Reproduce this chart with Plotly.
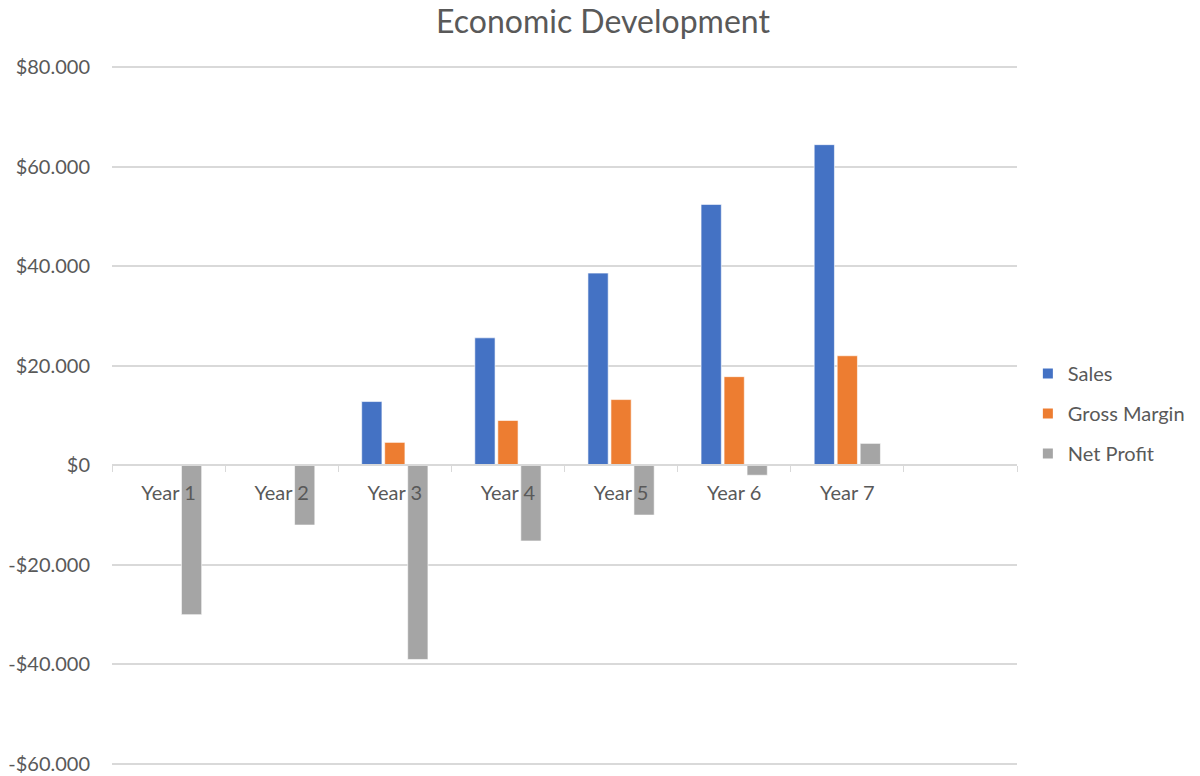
import plotly.graph_objects as go

categories = ["Year 1", "Year 2", "Year 3", "Year 4", "Year 5", "Year 6", "Year 7", " "]
sales = [None, None, 12800, 25600, 38600, 52400, 64400, None]
gross_margin = [None, None, 4600, 9000, 13200, 17800, 22000, None]
net_profit = [-30000, -12000, -39000, -15200, -10000, -2000, 4400, None]

y_tickvals = [80000, 60000, 40000, 20000, 0, -20000, -40000, -60000]
y_ticktext = ["$80.000", "$60.000", "$40.000", "$20.000", "$0", "-$20.000", "-$40.000", "-$60.000"]

FONT = "Lato"
GRAY_TXT = "#595959"
GRID = "#d9d9d9"

fig = go.Figure()
for name, vals, color in [("Sales", sales, "#4472C4"),
                          ("Gross Margin", gross_margin, "#ED7D31"),
                          ("Net Profit", net_profit, "#A5A5A5")]:
    fig.add_trace(go.Bar(x=categories, y=vals, name=name, legendgroup=name,
                         marker=dict(color=color, line=dict(color="white", width=0.6))))

ymin, ymax = -60400, 80400
zero_frac = (0 - ymin) / (ymax - ymin)

fig.update_layout(
    width=1200, height=776,
    margin=dict(l=112, r=183, t=65, b=10, autoexpand=False),
    paper_bgcolor="white", plot_bgcolor="white",
    barmode="group", bargap=0.39, bargroupgap=0.12,
    font=dict(family=FONT, color=GRAY_TXT, size=20),
    title=dict(text="Economic Development", x=0.5025, xanchor="center",
               y=0.972, yanchor="middle",
               font=dict(family=FONT, size=32, color=GRAY_TXT)),
    legend=dict(x=1.012, y=0.503, xanchor="left", yanchor="middle",
                font=dict(family=FONT, size=20, color=GRAY_TXT),
                tracegroupgap=11, itemsizing="constant", itemwidth=30),
    showlegend=True,
)
fig.update_xaxes(
    type="category", range=[-0.5, 7.5], automargin=False,
    anchor="free", position=zero_frac,
    showline=True, linecolor=GRID, linewidth=1.5,
    showgrid=False, zeroline=False,
    tickson="boundaries", ticks="outside", ticklen=6, tickcolor=GRID, tickwidth=1,
    ticklabelstandoff=10,
    tickfont=dict(family=FONT, size=20, color=GRAY_TXT),
)
fig.update_yaxes(
    range=[ymin, ymax], tickvals=y_tickvals, ticktext=y_ticktext, automargin=False,
    showgrid=True, gridcolor=GRID, gridwidth=1.5,
    zeroline=False, showline=False, ticks="",
    ticklabelstandoff=21, ticklabeloverflow="allow",
    tickfont=dict(family=FONT, size=20, color=GRAY_TXT),
)
fig.write_html("out.html")
